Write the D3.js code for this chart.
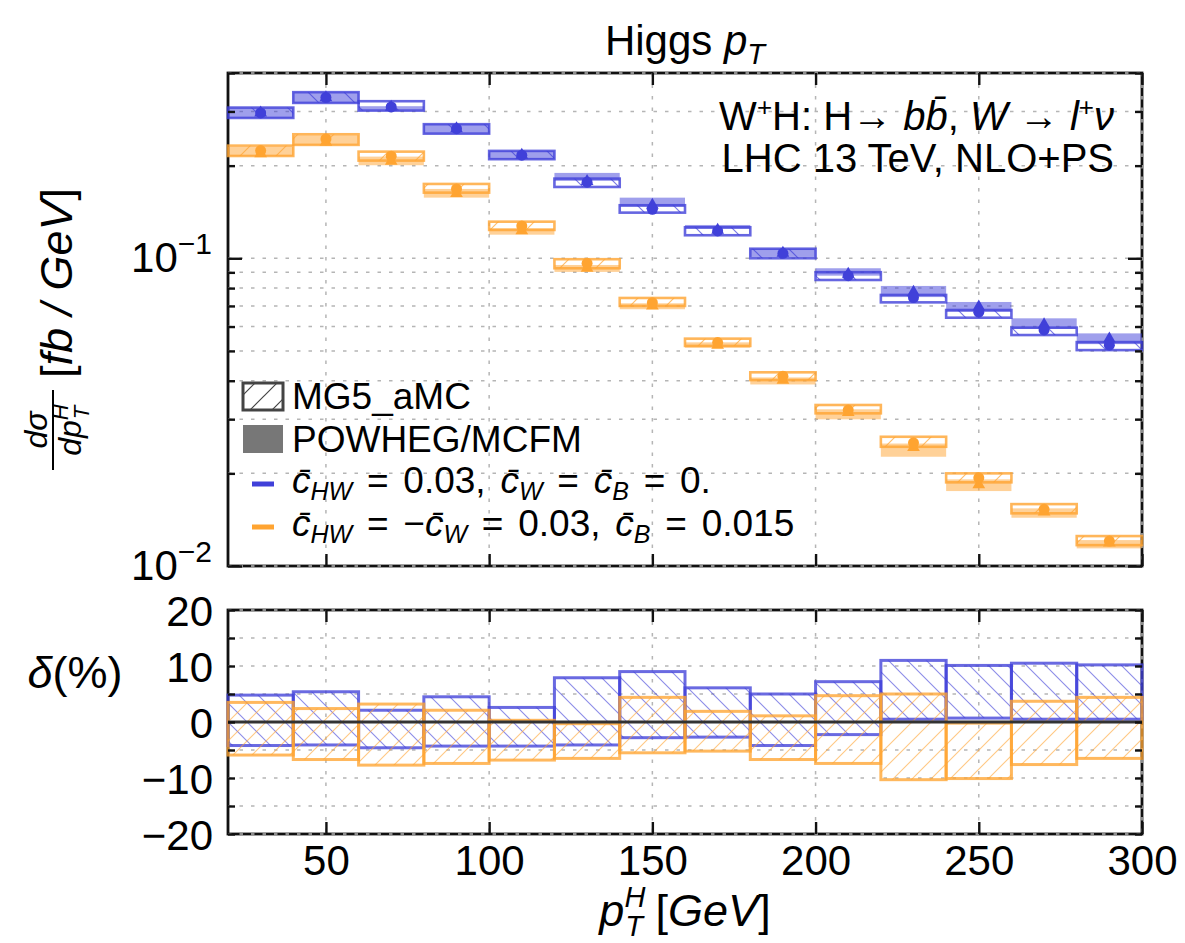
<!DOCTYPE html>
<html><head><meta charset="utf-8">
<script src="https://cdn.jsdelivr.net/npm/d3@7/dist/d3.min.js"></script>
<style>
body{margin:0;background:#fff;}
svg text{font-family:"Liberation Sans",Arial,Helvetica,sans-serif;fill:#000;}
</style></head>
<body><svg id="chart" width="1185" height="943"></svg>
<script>
// ---------------- data ----------------
const binLo=[20,40,60,80,100,120,140,160,180,200,220,240,260,280];
const binHi=[40,60,80,100,120,140,160,180,200,220,240,260,280,300];
// blue: cHW=0.03, cW=cB=0
const blueMg5  =[0.2968,0.3330,0.3104,0.2638,0.2162,0.1767,0.1443,0.1227,0.1038,0.0878,0.0745,0.0668,0.0585,0.0522];
const blueMg5Lo=[0.2858,0.3198,0.3019,0.2541,0.2099,0.1705,0.1407,0.1188,0.1000,0.0850,0.0719,0.0641,0.0563,0.0503];
const blueMg5Hi=[0.3088,0.3465,0.3239,0.2727,0.2233,0.1815,0.1487,0.1261,0.1074,0.0901,0.0760,0.0679,0.0595,0.0534];
const bluePow  =[0.2970,0.3330,0.3100,0.2640,0.2165,0.1779,0.1490,0.1235,0.1040,0.0889,0.0777,0.0695,0.0609,0.0547];
const bluePowLo=[0.2858,0.3198,0.3019,0.2541,0.2099,0.1784,0.1468,0.1245,0.1010,0.0878,0.0748,0.0669,0.0590,0.0526];
const bluePowHi=[0.3088,0.3465,0.3120,0.2727,0.2233,0.1894,0.1574,0.1283,0.1074,0.0928,0.0813,0.0721,0.0638,0.0570];
// orange: cHW=-cW=0.03, cB=0.015
const orangeMg5  =[0.2238,0.2442,0.2146,0.1680,0.1273,0.0963,0.0717,0.0532,0.0414,0.03212,0.02514,0.01935,0.01528,0.01205];
const orangeMg5Lo=[0.2150,0.2336,0.2077,0.1634,0.1236,0.0928,0.0700,0.0519,0.0402,0.03134,0.0244,0.0187,0.01483,0.01169];
const orangeMg5Hi=[0.2323,0.2529,0.2221,0.1744,0.1315,0.0993,0.0743,0.0548,0.0426,0.03336,0.0263,0.0200,0.01589,0.01251];
const orangePow  =[0.2190,0.2385,0.2070,0.1625,0.1230,0.0930,0.0700,0.0522,0.0402,0.0316,0.0243,0.0184,0.0150,0.0119];
const orangePowLo=[0.2150,0.2336,0.2006,0.1574,0.1193,0.0903,0.0683,0.0512,0.0389,0.02997,0.02265,0.01752,0.01435,0.01141];
const orangePowHi=[0.2300,0.2510,0.2140,0.1680,0.1252,0.0951,0.0714,0.0533,0.0410,0.0323,0.0250,0.01912,0.01539,0.01214];
// ratio panel delta(%)
const blueUp   =[4.8,5.4,2.1,4.5,2.6,7.9,9.0,6.1,5.0,7.2,11.0,10.1,10.5,10.2];
const blueDown =[-4.2,-4.1,-4.6,-4.3,-4.3,-4.1,-2.8,-2.7,-4.2,-2.25,0.5,0.7,0.5,0.5];
const orangeUp =[3.5,2.4,3.2,2.1,0.3,-0.3,4.4,1.9,1.1,4.7,5.0,-0.2,3.7,4.4];
const orangeDown=[-5.9,-6.7,-7.7,-7.4,-6.8,-6.5,-5.5,-5.2,-6.7,-7.4,-10.3,-10.1,-7.6,-6.5];
// ticks
const xTicks=[50,100,150,200,250,300];
const yTopMajor=[0.01,0.1];
const yTopMinor=[0.02,0.03,0.04,0.05,0.06,0.07,0.08,0.09,0.2,0.3,0.4];
const yBotTicks=[-20,-15,-10,-5,0,5,10,15,20];
const yBotLabels=[-20,-10,0,10,20];

// ---------------- setup ----------------
const BLUE="#4040d9", ORANGE="#ffa431";
const svg=d3.select("#chart");
const L=228,R=1142,T1=73,B1=566,T2=610,B2=834;
const x=d3.scaleLinear().domain([20,300]).range([L,R]);
const yT=d3.scaleLog().domain([0.01,0.4]).range([B1,T1]);
const yB=d3.scaleLinear().domain([-20,20]).range([B2,T2]);
const defs=svg.append("defs");
function hatch(id,color,dir,s,op,sw){
  const p=defs.append("pattern").attr("id",id).attr("patternUnits","userSpaceOnUse").attr("width",s).attr("height",s);
  const d = dir==="\\" ? `M0,0L${s},${s}M${-s/2},${s/2}L${s/2},${3*s/2}M${s/2},${-s/2}L${3*s/2},${s/2}`
                       : `M0,${s}L${s},0M${-s/2},${s/2}L${s/2},${-s/2}M${s/2},${3*s/2}L${3*s/2},${s/2}`;
  p.append("path").attr("d",d).attr("stroke",color).attr("stroke-width",sw).attr("stroke-opacity",op).attr("fill","none");
}
hatch("hbT",BLUE,"\\",36,0.7,1.2);
hatch("hoT",ORANGE,"/",36,0.7,1.2);
hatch("hbB",BLUE,"\\",19,0.6,1.1);
hatch("hoB",ORANGE,"/",19,0.6,1.1);
hatch("hLeg","#444","/",22,1,1.2);

const idx=d3.range(binLo.length);
const GRID={stroke:"#b5b5b5","stroke-width":1.5,"stroke-dasharray":"3.5,8"};
function applyAttrs(s,o){for(const k in o)s.attr(k,o[k]);return s;}

// ---------------- frames ----------------
[[T1,B1],[T2,B2]].forEach(([t,b])=>{
  svg.append("rect").attr("x",L).attr("y",t).attr("width",R-L).attr("height",b-t)
    .attr("fill","none").attr("stroke","#111").attr("stroke-width",2.8);
});

// ---------------- grids ----------------
const gT=svg.append("g");
xTicks.forEach(v=>applyAttrs(gT.append("line").attr("x1",x(v)).attr("x2",x(v)).attr("y1",T1).attr("y2",B1),GRID));
yTopMajor.concat(yTopMinor).forEach(v=>applyAttrs(gT.append("line").attr("x1",L).attr("x2",R).attr("y1",yT(v)).attr("y2",yT(v)),GRID));
xTicks.forEach(v=>applyAttrs(gT.append("line").attr("x1",x(v)).attr("x2",x(v)).attr("y1",T2).attr("y2",B2),GRID));
yBotTicks.forEach(v=>applyAttrs(gT.append("line").attr("x1",L).attr("x2",R).attr("y1",yB(v)).attr("y2",yB(v)),GRID));

// ---------------- top panel data ----------------
function drawTop(mg5,mg5Lo,mg5Hi,pow,powLo,powHi,color,pat){
  const g=svg.append("g");
  g.selectAll("rect.h").data(idx).join("rect")
    .attr("x",i=>x(binLo[i])).attr("width",i=>x(binHi[i])-x(binLo[i]))
    .attr("y",i=>yT(mg5Hi[i])).attr("height",i=>yT(mg5Lo[i])-yT(mg5Hi[i]))
    .attr("fill",`url(#${pat})`).attr("stroke",color).attr("stroke-opacity",0.8).attr("stroke-width",2.6);
  g.selectAll("rect.f").data(idx).join("rect")
    .attr("x",i=>x(binLo[i])).attr("width",i=>x(binHi[i])-x(binLo[i]))
    .attr("y",i=>yT(powHi[i])).attr("height",i=>yT(powLo[i])-yT(powHi[i]))
    .attr("fill",color).attr("fill-opacity",0.5);
  const tri=d3.symbol(d3.symbolTriangle,70);
  g.selectAll("path.t").data(idx).join("path")
    .attr("d",tri).attr("fill",color)
    .attr("transform",i=>`translate(${x((binLo[i]+binHi[i])/2)},${yT(pow[i])})`);
  g.selectAll("circle").data(idx).join("circle")
    .attr("cx",i=>x((binLo[i]+binHi[i])/2)).attr("cy",i=>yT(mg5[i])).attr("r",5.5).attr("fill",color);
}
drawTop(blueMg5,blueMg5Lo,blueMg5Hi,bluePow,bluePowLo,bluePowHi,BLUE,"hbT");
drawTop(orangeMg5,orangeMg5Lo,orangeMg5Hi,orangePow,orangePowLo,orangePowHi,ORANGE,"hoT");

// ---------------- ratio panel ----------------
function drawRatio(up,down,color,pat){
  svg.append("g").selectAll("rect").data(idx).join("rect")
    .attr("x",i=>x(binLo[i])).attr("width",i=>x(binHi[i])-x(binLo[i]))
    .attr("y",i=>yB(Math.max(up[i],down[i]))).attr("height",i=>Math.abs(yB(down[i])-yB(up[i])))
    .attr("fill",`url(#${pat})`).attr("stroke",color).attr("stroke-opacity",0.78).attr("stroke-width",3);
}
drawRatio(blueUp,blueDown,BLUE,"hbB");
drawRatio(orangeUp,orangeDown,ORANGE,"hoB");
svg.append("line").attr("x1",L).attr("x2",R).attr("y1",yB(0)).attr("y2",yB(0)).attr("stroke","#333").attr("stroke-width",3);

// ---------------- ticks ----------------
function styleAxis(g){g.select(".domain").remove();g.selectAll(".tick line").attr("stroke","#111").attr("stroke-width",2.4);g.attr("font-size",null).attr("font-family",null);}
[[T1,B1],[T2,B2]].forEach(([t,b])=>{
  svg.append("g").attr("transform",`translate(0,${b})`).call(d3.axisBottom(x).tickValues(xTicks).tickSize(-12).tickFormat("")).call(styleAxis);
  svg.append("g").attr("transform",`translate(0,${t})`).call(d3.axisTop(x).tickValues(xTicks).tickSize(-12).tickFormat("")).call(styleAxis);
});
svg.append("g").attr("transform",`translate(${L},0)`).call(d3.axisLeft(yT).tickValues(yTopMajor).tickSize(-14).tickFormat("")).call(styleAxis);
svg.append("g").attr("transform",`translate(${R},0)`).call(d3.axisRight(yT).tickValues(yTopMajor).tickSize(-14).tickFormat("")).call(styleAxis);
svg.append("g").attr("transform",`translate(${L},0)`).call(d3.axisLeft(yT).tickValues(yTopMinor).tickSize(-7).tickFormat("")).call(styleAxis);
svg.append("g").attr("transform",`translate(${R},0)`).call(d3.axisRight(yT).tickValues(yTopMinor).tickSize(-7).tickFormat("")).call(styleAxis);
svg.append("g").attr("transform",`translate(${L},0)`).call(d3.axisLeft(yB).tickValues(yBotTicks).tickSize(-7).tickFormat("")).call(styleAxis);
svg.append("g").attr("transform",`translate(${R},0)`).call(d3.axisRight(yB).tickValues(yBotTicks).tickSize(-7).tickFormat("")).call(styleAxis);

// tick labels
const xl=svg.append("g").attr("transform",`translate(0,${B2})`)
  .call(d3.axisBottom(x).tickValues(xTicks).tickSize(0).tickPadding(11).tickFormat(d3.format("d")));
xl.select(".domain").remove(); xl.attr("font-size",null).attr("font-family",null);
xl.selectAll("text").style("font-size","42px");
const ylb=svg.append("g").attr("transform",`translate(${L},0)`)
  .call(d3.axisLeft(yB).tickValues(yBotLabels).tickSize(0).tickPadding(15).tickFormat(d3.format("d")));
ylb.select(".domain").remove(); ylb.attr("font-size",null).attr("font-family",null);
ylb.selectAll("text").style("font-size","42px").attr("dy","0.36em");
yTopMajor.forEach(v=>{
  const t=svg.append("text").attr("x",212).attr("y",yT(v)+14).attr("text-anchor","end").style("font-size","42px");
  t.append("tspan").text("10");
  t.append("tspan").attr("dy",-18).style("font-size","30px").text("\u2212"+Math.round(-Math.log10(v)));
});

// ---------------- titles / labels ----------------
const ttl=svg.append("text").attr("x",(L+R)/2).attr("y",55).attr("text-anchor","middle").style("font-size","42px");
ttl.append("tspan").text("Higgs ");
ttl.append("tspan").style("font-style","italic").text("p");
ttl.append("tspan").style("font-style","italic").style("font-size","29px").attr("dy",9).text("T");

const ann1=svg.append("text").attr("x",1114).attr("y",130).attr("text-anchor","end").style("font-size","40px");
ann1.append("tspan").text("W");
ann1.append("tspan").style("font-size","26px").attr("dy",-14).text("+");
ann1.append("tspan").attr("dy",14).text("H: H\u2192 ");
ann1.append("tspan").style("font-style","italic").text("bb\u0304");
ann1.append("tspan").text(", ");
ann1.append("tspan").style("font-style","italic").text("W");
ann1.append("tspan").text(" \u2192 ");
ann1.append("tspan").style("font-style","italic").text("l");
ann1.append("tspan").style("font-size","26px").attr("dy",-14).text("+");
ann1.append("tspan").style("font-style","italic").attr("dy",14).text("\u03BD");
svg.append("text").attr("x",1114).attr("y",172).attr("text-anchor","end").style("font-size","40px").text("LHC 13 TeV, NLO+PS");

// y label (top)
const yl=svg.append("text").attr("transform","translate(72,283) rotate(-90)").attr("text-anchor","middle").style("font-size","45px");
yl.append("tspan").text("[");
yl.append("tspan").style("font-style","italic").text("fb");
yl.append("tspan").style("font-style","italic").text(" / ");
yl.append("tspan").style("font-style","italic").text("GeV");
yl.append("tspan").text("]");
svg.append("text").attr("transform","translate(47,430) rotate(-90)").attr("text-anchor","middle").style("font-size","32px").style("font-style","italic").text("d\u03C3");
svg.append("line").attr("x1",53).attr("x2",53).attr("y1",390).attr("y2",470).attr("stroke","#000").attr("stroke-width",2);
const den=svg.append("text").attr("transform","translate(81,430) rotate(-90)").attr("text-anchor","middle").style("font-size","32px").style("font-style","italic");
den.append("tspan").text("dp");
den.append("tspan").style("font-size","22px").attr("dy",-13).text("H");
den.append("tspan").style("font-size","22px").attr("dx",-15).attr("dy",21).text("T");

// ratio y label
const dl=svg.append("text").attr("x",75).attr("y",688).attr("text-anchor","middle").style("font-size","45px");
dl.append("tspan").style("font-style","italic").text("\u03B4");
dl.append("tspan").text("(%)");

// x label
const xlab=svg.append("text").attr("x",(L+R)/2).attr("y",926).attr("text-anchor","middle").style("font-size","45px");
xlab.append("tspan").style("font-style","italic").text("p");
xlab.append("tspan").style("font-style","italic").style("font-size","29px").attr("dy",-19).text("H");
xlab.append("tspan").style("font-style","italic").style("font-size","29px").attr("dx",-20).attr("dy",29).text("T");
xlab.append("tspan").attr("dy",-10).text(" [");
xlab.append("tspan").style("font-style","italic").text("GeV");
xlab.append("tspan").text("]");

// ---------------- legend ----------------
const lg=svg.append("g");
lg.append("rect").attr("x",243).attr("y",383).attr("width",40).attr("height",27).attr("fill","url(#hLeg)").attr("stroke","#444").attr("stroke-width",3);
lg.append("text").attr("x",292).attr("y",409).style("font-size","37px").text("MG5_aMC");
lg.append("rect").attr("x",243).attr("y",425).attr("width",40).attr("height",28).attr("fill","#777");
lg.append("text").attr("x",292).attr("y",452).style("font-size","37px").text("POWHEG/MCFM");
lg.append("line").attr("x1",252).attr("x2",274).attr("y1",484).attr("y2",484).attr("stroke",BLUE).attr("stroke-width",5);
lg.append("line").attr("x1",252).attr("x2",274).attr("y1",527).attr("y2",527).attr("stroke",ORANGE).attr("stroke-width",5);
function cbar(t,sub){
  t.append("tspan").style("font-style","italic").text("c\u0304");
  t.append("tspan").style("font-style","italic").style("font-size","25px").attr("dy",7).text(sub);
}
const r3=lg.append("text").attr("x",292).attr("y",493).style("font-size","37px").style("word-spacing","4.5px");
cbar(r3,"HW"); r3.append("tspan").attr("dy",-7).text(" = 0.03, ");
cbar(r3,"W"); r3.append("tspan").attr("dy",-7).text(" = ");
cbar(r3,"B"); r3.append("tspan").attr("dy",-7).text(" = 0.");
const r4=lg.append("text").attr("x",292).attr("y",536).style("font-size","37px").style("word-spacing","4.5px");
cbar(r4,"HW"); r4.append("tspan").attr("dy",-7).text(" = \u2212");
cbar(r4,"W"); r4.append("tspan").attr("dy",-7).text(" = 0.03, ");
cbar(r4,"B"); r4.append("tspan").attr("dy",-7).text(" = 0.015");
</script>
</body></html>
